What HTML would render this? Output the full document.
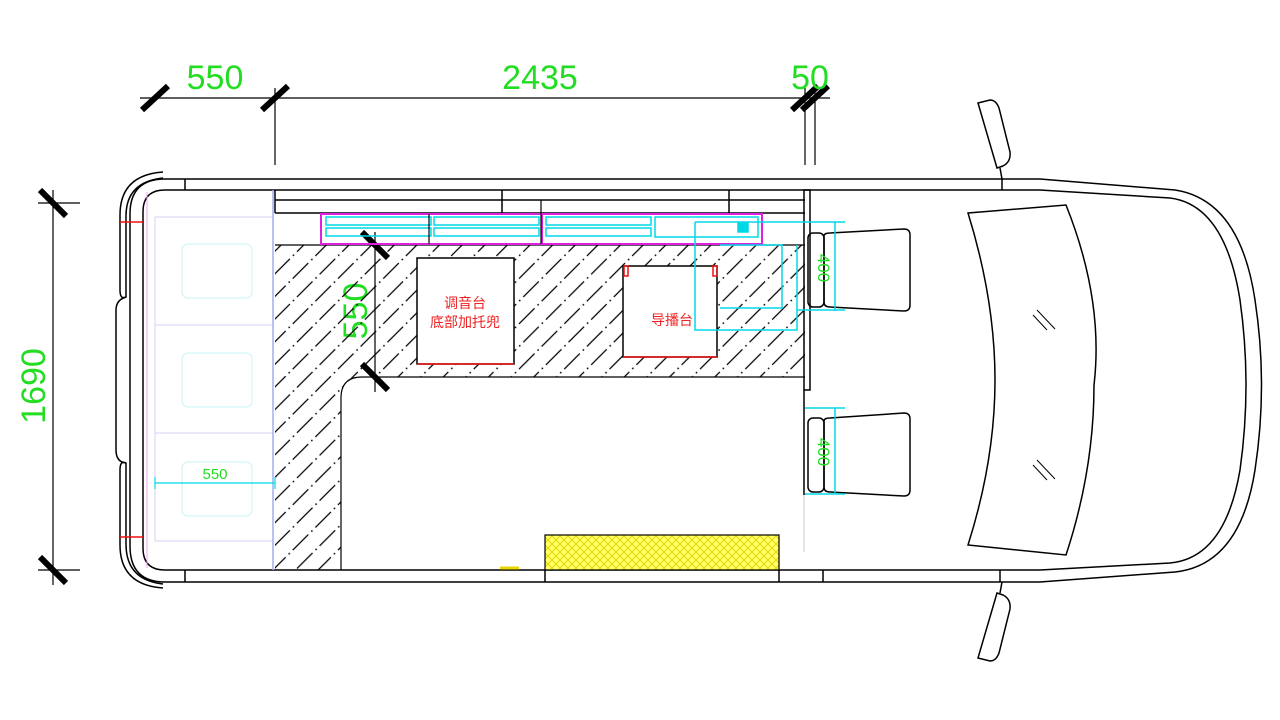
<!DOCTYPE html>
<html><head><meta charset="utf-8"><style>
html,body{margin:0;padding:0;background:#fff;}
svg{display:block;}
text{font-family:"Liberation Sans","Noto Sans CJK SC",sans-serif;}
</style></head><body>
<svg width="1280" height="720" viewBox="0 0 1280 720" xmlns="http://www.w3.org/2000/svg">
<defs>
<pattern id="hatch" patternUnits="userSpaceOnUse" width="32" height="32" patternTransform="rotate(-45)">
<line x1="0" y1="4" x2="22" y2="4" stroke="#000" stroke-width="1.3"/>
<circle cx="27" cy="4" r="0.9" fill="#000"/>
<line x1="10" y1="20" x2="32" y2="20" stroke="#000" stroke-width="1.3"/>
<circle cx="5" cy="20" r="0.9" fill="#000"/>
</pattern>
<pattern id="xh" patternUnits="userSpaceOnUse" width="8" height="8">
<rect width="8" height="8" fill="#ffff66"/>
<path d="M0 0L8 8M8 0L0 8" stroke="#e0d000" stroke-width="0.8"/>
</pattern>
</defs>

<g stroke="#000" stroke-width="1.2" fill="none">
<line x1="140" y1="98" x2="830" y2="98"/>
<line x1="275" y1="88" x2="275" y2="165"/>
<line x1="805" y1="88" x2="805" y2="165"/>
<line x1="815" y1="88" x2="815" y2="165"/>
<line x1="53" y1="190" x2="53" y2="585"/>
<line x1="38" y1="203" x2="80" y2="203"/>
<line x1="38" y1="570" x2="80" y2="570"/>
</g>
<g stroke="#000" stroke-width="6" stroke-linecap="butt">
<line x1="142" y1="110" x2="168" y2="86"/>
<line x1="262" y1="110" x2="288" y2="86"/>
<line x1="792" y1="110" x2="818" y2="86"/>
<line x1="802" y1="110" x2="828" y2="86"/>
<line x1="40" y1="190" x2="66" y2="216"/>
<line x1="40" y1="557" x2="66" y2="583"/>
<line x1="362" y1="232" x2="388" y2="258"/>
<line x1="362" y1="364" x2="388" y2="390"/>
</g>
<g fill="#22dd22" font-size="34">
<text x="215" y="89" text-anchor="middle">550</text>
<text x="540" y="89" text-anchor="middle">2435</text>
<text x="810" y="89" text-anchor="middle">50</text>
<text x="0" y="0" text-anchor="middle" transform="translate(45,386) rotate(-90)">1690</text>
<text x="0" y="0" text-anchor="middle" transform="translate(367,311) rotate(-90)">550</text>
</g>

<path d="M275 245 H805 V377 H362 Q341 377 341 398 V570 H275 Z" fill="url(#hatch)" stroke="none"/>
<path d="M275 245 H805 M805 377 H362 Q341 377 341 398 V570" fill="none" stroke="#000" stroke-width="1.2"/>
<line x1="375" y1="232" x2="375" y2="392" stroke="#000" stroke-width="1.2"/>

<g fill="none" stroke="#000" stroke-width="1.5">
<path d="M185 179 H1040 L1175 190 Q1240 200 1255 300 Q1268 385 1255 470 Q1240 565 1175 572 L1040 582 H185"/>
<path d="M165 190 H1040 L1170 198 Q1225 205 1240 300 Q1252 385 1240 470 Q1225 558 1170 563 L1040 570 H165"/>
<path d="M185 179 H165 Q130 179 130 214 V546 Q130 582 165 582 H185"/>
<path d="M165 190 Q143 190 143 212 V548 Q143 570 165 570"/>
<path d="M163 172 Q120 175 120 215 V290 Q120 300 126 297 V216 Q126 182 163 178"/>
<path d="M163 588 Q120 585 120 545 V470 Q120 460 126 463 V544 Q126 580 163 584"/>
<path d="M126 297 Q116 300 116 310 V450 Q116 462 126 463"/>
<line x1="185" y1="179" x2="185" y2="190"/>
<line x1="185" y1="570" x2="185" y2="582"/>
<line x1="545" y1="570" x2="545" y2="582"/>
<line x1="779" y1="570" x2="779" y2="582"/>
<line x1="823" y1="570" x2="823" y2="582"/>
<line x1="1000" y1="570" x2="1000" y2="582"/>
<line x1="1002" y1="179" x2="1002" y2="190"/>
<line x1="275" y1="200" x2="805" y2="200"/>
<line x1="275" y1="213" x2="805" y2="213"/>
<line x1="275" y1="190" x2="275" y2="213"/>
<line x1="502" y1="190" x2="502" y2="213"/>
<line x1="729" y1="190" x2="729" y2="213"/>
<rect x="804" y="190" width="6" height="200"/>
<line x1="804" y1="390" x2="804" y2="495"/>
<path d="M978 103 L990 100 Q996 100 999 108 L1010 152 Q1011 162 1003 166 L997 168 Z"/>
<line x1="1000" y1="168" x2="1002" y2="179"/>
<path d="M978 658 L990 661 Q996 661 999 653 L1010 609 Q1011 599 1003 595 L997 593 Z"/>
<line x1="1000" y1="593" x2="1002" y2="582"/>
<path d="M968 213 L1066 205 Q1104 300 1094 385 Q1094 470 1066 555 L968 545 Q995 460 995 380 Q995 300 968 213 Z"/>
<path d="M1033 315 L1047 330 M1037 310 L1055 329 M1033 465 L1047 480 M1037 460 L1055 479" stroke-width="1"/>
<rect x="808" y="233" width="16" height="74" rx="5"/>
<path d="M824 236 Q824 233 830 233 L904 229 Q910 229 910 235 V305 Q910 311 904 311 L830 307 Q824 307 824 302 Z"/>
<rect x="808" y="418" width="16" height="74" rx="5"/>
<path d="M824 421 Q824 418 830 418 L904 413 Q910 413 910 419 V490 Q910 496 904 496 L830 492 Q824 492 824 487 Z"/>
<rect x="417" y="258" width="97" height="106" fill="#fff"/>
<rect x="623" y="266" width="94" height="91" fill="#fff"/>
</g>
<line x1="804" y1="495" x2="804" y2="552" stroke="#ccc" stroke-width="1"/>

<g stroke="#ee1111" stroke-width="1.5" fill="none">
<line x1="120" y1="222" x2="143" y2="222"/>
<line x1="120" y1="537" x2="143" y2="537"/>
<line x1="417" y1="364" x2="514" y2="364"/>
<line x1="623" y1="357" x2="717" y2="357"/>
<rect x="624" y="266" width="4" height="10"/>
<rect x="713" y="266" width="4" height="10"/>
</g>
<g fill="#ee2222" font-size="14" text-anchor="middle">
<text x="465" y="308">调音台</text>
<text x="465" y="327">底部加托兜</text>
<text x="672" y="325">导播台</text>
</g>

<g fill="none" stroke="#d8d0f4" stroke-width="1">
<rect x="155" y="217" width="118" height="108"/>
<rect x="155" y="325" width="118" height="108"/>
<rect x="155" y="433" width="118" height="108"/>
<line x1="147" y1="192" x2="147" y2="568" stroke="#f0a0f0"/>
</g>
<g fill="none" stroke="#c8f4f4" stroke-width="1">
<rect x="182" y="244" width="70" height="54" rx="6"/>
<rect x="182" y="353" width="70" height="54" rx="6"/>
<rect x="182" y="462" width="70" height="54" rx="6"/>
</g>
<line x1="273" y1="190" x2="273" y2="570" stroke="#9fb0ee" stroke-width="1.5"/>
<g stroke="#00d8e8" stroke-width="1.2" fill="none">
<line x1="155" y1="483" x2="275" y2="483"/>
<line x1="155" y1="477" x2="155" y2="489"/>
<line x1="275" y1="477" x2="275" y2="489"/>
</g>
<text x="215" y="479" fill="#22dd22" font-size="15" text-anchor="middle">550</text>

<rect x="321" y="214" width="441" height="30" fill="none" stroke="#e020e0" stroke-width="2"/>
<line x1="542" y1="214" x2="542" y2="244" stroke="#e020e0" stroke-width="2"/>
<g stroke="#00d8e8" stroke-width="1.5" fill="none">
<rect x="326" y="217" width="105" height="8"/>
<rect x="326" y="228" width="105" height="8"/>
<rect x="434" y="217" width="105" height="8"/>
<rect x="434" y="228" width="105" height="8"/>
<rect x="546" y="217" width="105" height="8"/>
<rect x="546" y="228" width="105" height="8"/>
<rect x="655" y="217" width="103" height="20"/>
<rect x="738" y="223" width="10" height="9" fill="#00d8e8"/>
<path d="M695 222 H845 M695 222 V330 H797 V245 M797 310 H845 M720 245 H782 V308 H720"/>
<path d="M835 222 V311 M835 408 V494 M805 408 H845 M805 494 H845"/>
</g>
<g stroke="#000" stroke-width="1.2">
<line x1="541" y1="200" x2="541" y2="244"/>
<line x1="429" y1="214" x2="429" y2="244"/>
</g>

<g fill="#22dd22" font-size="17" text-anchor="middle">
<text transform="translate(818,268) rotate(90)">400</text>
<text transform="translate(818,452) rotate(90)">400</text>
</g>

<rect x="545" y="535" width="234" height="35" fill="url(#xh)" stroke="#000" stroke-width="1.2"/>
<line x1="500" y1="568" x2="519" y2="568" stroke="#e8d800" stroke-width="3"/>
</svg>
</body></html>
